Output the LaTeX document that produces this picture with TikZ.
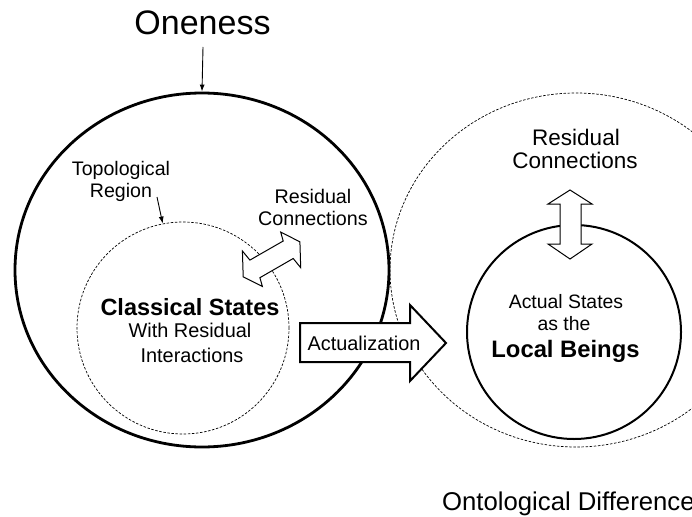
\documentclass[tikz,border=0pt]{standalone}
\usepackage{fontspec}
\setmainfont{Liberation Sans}
\usetikzlibrary{shapes.geometric,arrows.meta}
\newcommand\setfs[1]{\fontsize{#1}{#1}\selectfont}
\begin{document}
\begin{tikzpicture}[x=1pt,y=-1pt,
  lbl/.style={inner sep=0pt,anchor=base},
  dashcirc/.style={draw,line width=0.7pt,dash pattern=on 2.5pt off 1.6pt},
  blockarrow/.style={draw,fill=white,line width=1pt},
  pointer/.style={draw,line width=0.9pt,-{Latex[length=7pt,width=5pt]}}]
\useasboundingbox (0,0) rectangle (692,516);
% big shapes
\node[ellipse,draw,line width=2.8pt,minimum width=374pt,minimum height=354pt,inner sep=0pt] (one) at (202,270) {};
\node[ellipse,dashcirc,minimum width=372pt,minimum height=354pt,inner sep=0pt] (diff) at (576,270) {};
\node[circle,dashcirc,minimum size=212pt,inner sep=0pt] (topo) at (183,328) {};
\node[circle,draw,line width=2pt,minimum size=214pt,inner sep=0pt] (local) at (574,332) {};
% block arrows
\draw[blockarrow] (280.7,232.1) -- (299.9,241.8) -- (300.7,267.7) -- (293.2,258.5) -- (259.9,277.7)
  -- (262.4,286.5) -- (243.2,276.8) -- (242.4,251.0) -- (249.9,260.1) -- (283.2,241.0) -- cycle;
\draw[blockarrow] (570,190) -- (592,204) -- (581,204) -- (581,244) -- (592,244) -- (570,259)
  -- (548,244) -- (560,244) -- (560,204) -- (548,204) -- cycle;
\draw[draw,fill=white,line width=2pt] (300,323) -- (410,323) -- (410,305) -- (446,343) -- (410,381)
  -- (410,362) -- (300,362) -- cycle;
% texts
\node[lbl,font=\setfs{34}] (oneness) at (202.5,35) {Oneness};
\coordinate (onestart) at (203,47);
\draw[pointer] (onestart) -- (one.north);
\node[lbl,font=\setfs{19.6}] (topoA) at (121,175) {Topological};
\node[lbl,font=\setfs{19.6}] (topoB) at (121,197) {Region};
\coordinate (topostart) at (157,197);
\draw[pointer] (topostart) -- (topo.101);
\node[lbl,font=\setfs{19.7}] (resA) at (313,203) {Residual};
\node[lbl,font=\setfs{19.7}] (resB) at (313,225) {Connections};
\node[lbl,font=\bfseries\setfs{23.5}] (clsA) at (190,315) {Classical States};
\node[lbl,font=\setfs{19.9}] (clsB) at (190,337) {With Residual};
\node[lbl,font=\setfs{19.9}] (clsC) at (192,362) {Interactions};
\node[lbl,font=\setfs{19.9}] (act) at (364,350) {Actualization};
\node[lbl,font=\setfs{22.5}] (rrA) at (576,145) {Residual};
\node[lbl,font=\setfs{22.5}] (rrB) at (575,168) {Connections};
\node[lbl,font=\setfs{19.4}] (locA) at (566,308) {Actual States};
\node[lbl,font=\setfs{19.4}] (locB) at (564,330) {as the};
\node[lbl,font=\bfseries\setfs{23.8}] (locC) at (565.5,357) {Local Beings};
\node[inner sep=0pt,anchor=base west,font=\setfs{25.7}] (onto) at (442,510) {Ontological Difference};
\end{tikzpicture}
\end{document}
